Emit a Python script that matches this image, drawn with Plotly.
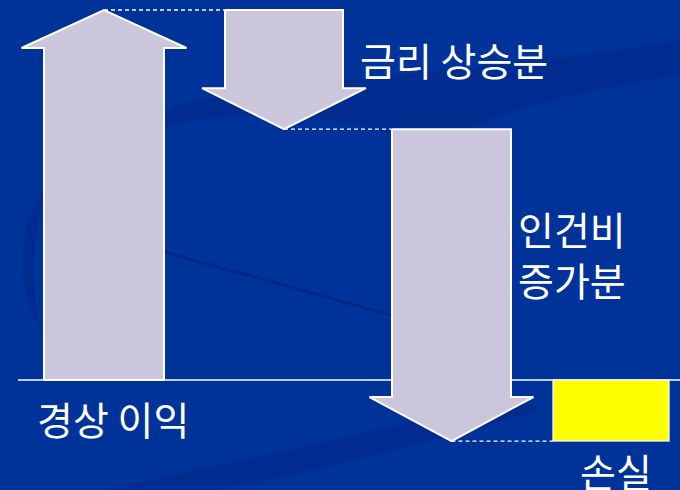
import plotly.graph_objects as go

# ---- data (waterfall: 경상 이익 -> 금리 상승분 -> 인건비 증가분 -> 손실) ----
step_labels = ["경상 이익", "금리 상승분", "인건비 증가분"]
step_values = [100.0, -32.2, -84.3]
result_label = "손실"
result_value = -16.5

# ---- layout / style constants (pixel-based x axis, value-based y axis) ----
W, H = 680, 490
BASE_PX = 380            # pixel row of the zero line
PX_PER_UNIT = 3.7        # vertical pixels per value unit
x_centers = [104, 284, 451.5, 611]
shaft_w = [120, 118, 119, 116]
head_w = [165, 164, 164]
head_len_px = [38, 41, 44]

BG = "#003399"
ARROW_FILL = "#CBC6DC"
LOSS_FILL = "#FFFF00"
FONT = "Noto Sans CJK KR"

y_top = BASE_PX / PX_PER_UNIT
y_bot = -(H - BASE_PX) / PX_PER_UNIT

def py(v_px):
    """pixel row -> value units"""
    return (BASE_PX - v_px) / PX_PER_UNIT

fig = go.Figure()

# ---- decorative background swooshes ----
def pp(x, y):
    return f"{x / W:.4f},{1 - y / H:.4f}"

swoosh = "rgba(0,25,110,0.22)"
shapes = [
    dict(type="path", xref="paper", yref="paper", layer="below", line_width=0,
         fillcolor=swoosh,
         path=f"M {pp(40,330)} C {pp(0,250)} {pp(20,140)} {pp(200,100)} "
              f"C {pp(330,75)} {pp(520,70)} {pp(680,40)} L {pp(680,75)} "
              f"C {pp(560,95)} {pp(480,115)} {pp(430,150)} "
              f"C {pp(330,95)} {pp(120,110)} {pp(60,170)} "
              f"C {pp(30,210)} {pp(30,280)} {pp(40,330)} Z"),
    dict(type="path", xref="paper", yref="paper", layer="below", line_width=0,
         fillcolor=swoosh,
         path=f"M {pp(100,490)} C {pp(250,460)} {pp(380,430)} {pp(520,395)} "
              f"L {pp(540,410)} C {pp(420,445)} {pp(300,475)} {pp(220,490)} Z"),
    dict(type="line", xref="paper", yref="paper", layer="below",
         x0=110 / W, y0=1 - 237 / H, x1=420 / W, y1=1 - 323 / H,
         line=dict(color="rgba(0,25,110,0.45)", width=3)),
]

# ---- zero line ----
fig.add_trace(go.Scatter(x=[18, W], y=[0, 0], mode="lines",
                         line=dict(color="white", width=1.5),
                         hoverinfo="skip", showlegend=False))

# ---- arrows ----
level = 0.0
tips = []
for i, v in enumerate(step_values):
    c = x_centers[i]
    w = shaft_w[i] / 2
    hw = head_w[i] / 2
    hl = head_len_px[i] / PX_PER_UNIT
    start, end = level, level + v
    sgn = 1 if v > 0 else -1
    neck = end - sgn * hl
    xs = [c - w, c - w, c - hw, c, c + hw, c + w, c + w, c - w]
    ys = [start, neck, neck, end, neck, neck, start, start]
    fig.add_trace(go.Scatter(x=xs, y=ys, mode="lines", fill="toself",
                             fillcolor=ARROW_FILL,
                             line=dict(color="white", width=2),
                             hoverinfo="skip", showlegend=False))
    tips.append((c, end))
    level = end

# ---- result box ----
c = x_centers[3]
w = shaft_w[3] / 2
fig.add_trace(go.Scatter(x=[c - w, c + w, c + w, c - w, c - w],
                         y=[0, 0, result_value, result_value, 0],
                         mode="lines", fill="toself", fillcolor=LOSS_FILL,
                         line=dict(color="rgba(255,255,255,0.8)", width=1.5),
                         hoverinfo="skip", showlegend=False))

# ---- dashed connectors (tip -> next element's left edge) ----
for i, (tx, ty) in enumerate(tips):
    nx = x_centers[i + 1] - shaft_w[i + 1] / 2
    fig.add_trace(go.Scatter(x=[tx, nx], y=[ty, ty], mode="lines",
                             line=dict(color="white", width=1.3, dash="4px,3px"),
                             hoverinfo="skip", showlegend=False))

# ---- labels ----
fs = 39
annos = [
    dict(x=35, y=py(418), text=step_labels[0]),
    dict(x=358, y=py(59), text=step_labels[1]),
    dict(x=516, y=py(253), text="<br>".join(step_labels[2].split(" "))),
    dict(x=578, y=py(470), text=result_label),
]
for a in annos:
    fig.add_annotation(x=a["x"], y=a["y"], text=a["text"], showarrow=False,
                       xanchor="left", yanchor="middle", align="left",
                       font=dict(family=FONT, size=fs, color="white"))

fig.update_layout(
    width=W, height=H,
    margin=dict(l=0, r=0, t=0, b=0),
    paper_bgcolor=BG, plot_bgcolor=BG,
    shapes=shapes,
    xaxis=dict(range=[0, W], visible=False, fixedrange=True),
    yaxis=dict(range=[y_bot, y_top], visible=False, fixedrange=True),
    showlegend=False,
)

fig.write_html("out.html",
               config={"displayModeBar": False, "staticPlot": True},
               post_script="document.body.style.margin='0';"
                           "document.body.style.overflow='hidden';"
                           "document.body.style.background='" + BG + "';")
